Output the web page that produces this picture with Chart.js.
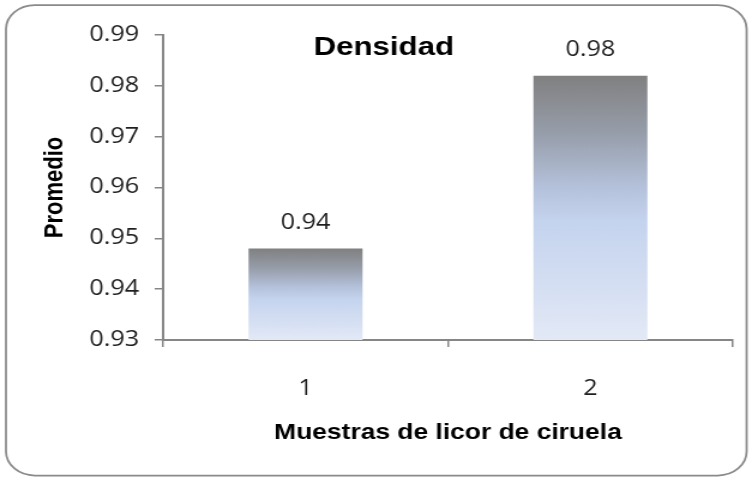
<!DOCTYPE html>
<html>
<head>
<meta charset="utf-8">
<script src="https://cdn.jsdelivr.net/npm/chart.js@4/dist/chart.umd.min.js"></script>
<style>
  html, body { margin: 0; padding: 0; background: #fff; }
  #c { display: block; }
</style>
</head>
<body>
<canvas id="c" width="627" height="479" style="width:752px;height:479px"></canvas>
<script>
// Average density per plum-liqueur sample
const categories = ['1', '2'];
const densidad = [0.943, 0.977];
const yTickValues = [0.925, 0.935, 0.945, 0.955, 0.965, 0.975, 0.985];
const yTickLabels = ['0.93', '0.94', '0.95', '0.96', '0.97', '0.98', '0.99'];
const chartTitle = 'Densidad';
const yTitle = 'Promedio';
const xTitle = 'Muestras de licor de ciruela';

const AXIS = '#868686';
const TEXT = '#1e1e1e';
const BODY_FONT = '"Open Sans", "Noto Sans", sans-serif';
const BOLD_FONT = '"Liberation Sans", Arial, sans-serif';

// Vertical gray-to-pale-blue fill, spanning each bar from its top to the baseline
function barGradient(ctx) {
  const chart = ctx.chart;
  const y = chart.scales.y;
  if (!chart.chartArea || !y || ctx.parsed == null) return '#c4d3ee';
  const top = y.getPixelForValue(ctx.parsed.y);
  const bottom = chart.chartArea.bottom;
  const g = chart.ctx.createLinearGradient(0, top, 0, bottom);
  g.addColorStop(0, '#808080');
  g.addColorStop(0.22, '#979eab');
  g.addColorStop(0.42, '#b4c1da');
  g.addColorStop(0.55, '#c4d3ee');
  g.addColorStop(1, '#e3e9f6');
  return g;
}

// Rounded outer frame, the chart title and the value labels above the bars
const decorations = {
  id: 'decorations',
  beforeDraw(chart) {
    const c = chart.ctx;
    c.save();
    c.fillStyle = '#fff';
    c.fillRect(0, 0, chart.width, chart.height);
    c.strokeStyle = '#8a8a8a';
    c.lineWidth = 1.75;
    c.beginPath();
    c.roundRect(5, 5, 617.5, 470.5, 24);
    c.stroke();
    c.restore();
  },
  afterDatasetsDraw(chart) {
    const c = chart.ctx;
    const meta = chart.getDatasetMeta(0);
    c.save();
    c.font = '21px ' + BODY_FONT;
    c.fillStyle = TEXT;
    c.textAlign = 'center';
    c.textBaseline = 'alphabetic';
    meta.data.forEach((bar, i) => {
      c.fillText(densidad[i].toFixed(2), bar.x, bar.y - 20);
    });
    c.restore();
  },
  afterDraw(chart) {
    const c = chart.ctx;
    c.save();
    c.font = 'bold 26px ' + BOLD_FONT;
    c.fillStyle = '#000';
    c.textAlign = 'center';
    c.textBaseline = 'alphabetic';
    c.fillText(chartTitle, 320, 54.5);
    c.restore();
  }
};

new Chart(document.getElementById('c'), {
  type: 'bar',
  data: {
    labels: categories,
    datasets: [{
      label: chartTitle,
      data: densidad,
      backgroundColor: barGradient,
      borderWidth: 0,
      barPercentage: 0.4,
      categoryPercentage: 1.0
    }]
  },
  options: {
    responsive: false,
    devicePixelRatio: 1,
    animation: false,
    events: [],
    layout: { padding: { top: 35, right: 16, bottom: 0, left: 0 } },
    plugins: {
      legend: { display: false },
      title: { display: false },
      tooltip: { enabled: false }
    },
    scales: {
      x: {
        afterFit(scale) { scale.height = 139; },
        grid: {
          offset: true,
          drawOnChartArea: false,
          drawTicks: true,
          tickLength: 7,
          color: AXIS,
          lineWidth: 1.5
        },
        border: { display: true, color: AXIS, width: 2 },
        ticks: {
          color: TEXT,
          font: { family: BODY_FONT, size: 21 },
          padding: 29
        },
        title: {
          display: true,
          text: xTitle,
          color: '#000',
          font: { family: BOLD_FONT, size: 22, weight: 'bold' },
          padding: { top: 0, bottom: 33 }
        }
      },
      y: {
        min: 0.925,
        max: 0.985,
        afterFit(scale) { scale.width = 136; },
        afterBuildTicks(scale) {
          scale.ticks = yTickValues.map(v => ({ value: v }));
        },
        grid: {
          drawOnChartArea: false,
          drawTicks: true,
          tickLength: 7,
          color: AXIS,
          lineWidth: 1.5
        },
        border: { display: true, color: AXIS, width: 2 },
        ticks: {
          color: TEXT,
          font: { family: BODY_FONT, size: 21 },
          padding: 13,
          callback: (value, index) => yTickLabels[index]
        },
        title: {
          display: true,
          text: yTitle,
          color: '#000',
          font: { family: BOLD_FONT, size: 22, weight: 'bold' },
          padding: { top: 33, bottom: 0 }
        }
      }
    }
  },
  plugins: [decorations]
});
</script>
</body>
</html>
